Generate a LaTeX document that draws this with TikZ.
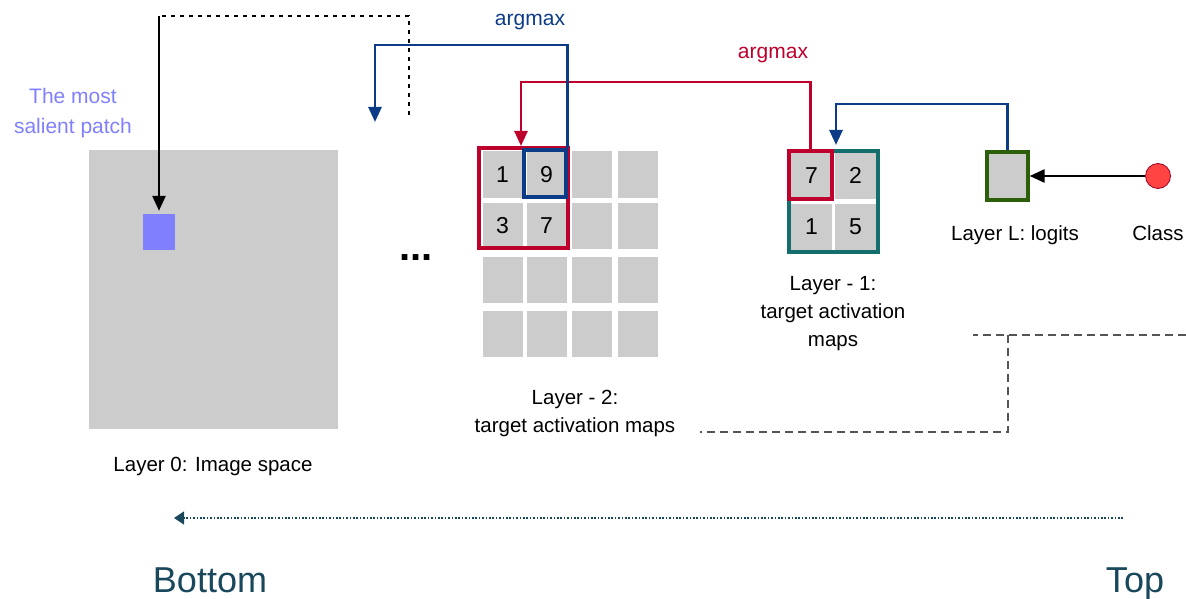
\documentclass[tikz,border=0pt]{standalone}
\usepackage{fontspec}
\setmainfont{Liberation Sans}
\usetikzlibrary{arrows.meta}

\definecolor{cellgray}{HTML}{CCCCCC}
\definecolor{patchblue}{HTML}{8080FF}
\definecolor{redc}{RGB}{190,0,45}
\definecolor{bluec}{RGB}{12,60,135}
\definecolor{tealc}{RGB}{20,110,110}
\definecolor{greenc}{RGB}{45,95,10}
\definecolor{classred}{HTML}{FF4444}
\definecolor{navyc}{RGB}{25,72,92}
\definecolor{dashgray}{HTML}{555555}

\begin{document}
\begin{tikzpicture}[x=1pt,y=-1pt,
  cell/.style={fill=cellgray, draw=none, minimum width=40pt, minimum height=46pt,
    inner sep=0pt, font=\fontsize{23}{23}\selectfont},
  cellb/.style={cell, minimum width=41pt},
  frame/.style={draw, line width=3.2pt, fill=none, inner sep=0pt},
  lbl/.style={font=\fontsize{20.5}{28}\selectfont, align=center, text=black},
  tip/.style={-{Triangle[length=15pt,width=13pt]}},
  wire/.style={line width=2.6pt},
  dotline/.style={line width=2.8pt, dash pattern=on 4pt off 5pt},
  dashline/.style={line width=2.4pt, draw=dashgray, dash pattern=on 8pt off 5pt},
]
\useasboundingbox (0,0) rectangle (1186,599);

% Layer 0: image space with the salient patch
\node[fill=cellgray, minimum width=249pt, minimum height=278pt, inner sep=0pt] (img) at (213.5,289.5) {};
\node[fill=patchblue, minimum width=32pt, minimum height=36pt, inner sep=0pt] (patch) at (159,232) {};
\node[font=\fontsize{21}{30}\selectfont, align=center, text=patchblue] (salient) at (73,113) {The most\\salient patch};
\node[lbl, anchor=base] (l0) at (213,471) {Layer 0: Image space};

% Layer -2: 4x4 activation map
\foreach \r/\yy in {1/174.5,2/226,3/279.5,4/333.5}{
  \foreach \c/\xx in {1/502.5,2/546.5,3/592,4/637.5}{
    \node[cell] (g\r\c) at (\xx,\yy) {};
  }
}
\node[cell, fill=none] (v11) at (g11) {1};
\node[cell, fill=none] (v12) at (g12) {9};
\node[cell, fill=none] (v21) at (g21) {3};
\node[cell, fill=none] (v22) at (g22) {7};
\node[frame, draw=redc, minimum width=89pt, minimum height=100pt] (r2) at (523.5,198) {};
\node[frame, draw=bluec, minimum width=42pt, minimum height=47pt] (b9) at (545,173.5) {};
% base anchor of a multi-line label sits on its last line
\node[lbl, anchor=base] (l2) at (575,432) {Layer - 2:\\target activation maps};

\node[font=\fontsize{40}{40}\selectfont\bfseries, anchor=base] (dots) at (416,260) {...};

% Layer -1: 2x2 activation map
\node[cellb] (h11) at (811.5,175.5) {7};
\node[cellb] (h12) at (855.5,175.5) {2};
\node[cellb] (h21) at (811.5,226.5) {1};
\node[cellb] (h22) at (855.5,226.5) {5};
\node[frame, draw=tealc, minimum width=89pt, minimum height=101pt] (t1) at (833.5,201.5) {};
\node[frame, draw=redc, minimum width=43pt, minimum height=48pt] (r7) at (810.5,175) {};
\node[lbl, anchor=base] (l1) at (833,346) {Layer - 1:\\target activation\\maps};

% Layer L: logits and the class
\node[fill=cellgray, draw=greenc, line width=3.2pt, minimum width=41pt, minimum height=48pt, inner sep=0pt] (logit) at (1007.5,176) {};
\node[circle, fill=classred, draw=redc!80!black, line width=0.8pt, minimum size=25pt, inner sep=0pt] (cls) at (1158,176) {};
\node[lbl, anchor=base] (lL) at (1015,240) {Layer L: logits};
\node[lbl, anchor=base] (lC) at (1158,240) {Class};

% argmax connectors
\coordinate (tipT1) at (836,145);
\coordinate (tipR2) at (521,146);
\coordinate (tipUp) at (375,122);
\draw[wire, tip] (cls.west) -- (logit.east);
\draw[wire, bluec, tip] (logit.north) -- (logit.north |- 0,104) -| (tipT1);
\draw[wire, redc, tip] (r7.north) -- (r7.north |- 0,82) -| (tipR2);
\draw[wire, bluec, tip] (b9.north east) -- (b9.north east |- 0,45) -| (tipUp);
\node[font=\fontsize{21}{21}\selectfont, text=bluec] (amB) at (530,22) {argmax};
\node[font=\fontsize{21}{21}\selectfont, text=redc] (amR) at (773,55) {argmax};

% projection back to image space
\coordinate (dotEnd) at (409,115);
\coordinate (dotCorner) at (159,16);
\draw[dotline] (dotEnd) |- (dotCorner);
\draw[wire, tip, shorten >=3pt] (dotCorner) -- (patch.north);

% layer boundary
\coordinate (dA) at (1186,335);
\coordinate (dB) at (973,335);
\coordinate (dC) at (1008,335);
\coordinate (dD) at (700,432);
\draw[dashline] (dA) -- (dB);
\draw[dashline] (dC) |- (dD);

% direction of the backward pass
\node[font=\fontsize{36}{36}\selectfont, text=navyc, anchor=base] (bot) at (210,592) {Bottom};
\node[font=\fontsize{36}{36}\selectfont, text=navyc, anchor=base] (top) at (1135,592) {Top};
\coordinate (dirStart) at (1123,518);
\coordinate (dirEnd) at (174,518);
\draw[navyc, line width=2.6pt, dash pattern=on 1.6pt off 1.8pt] (dirStart) -- ([xshift=8pt]dirEnd);
\draw[navyc, line width=1pt, -{Triangle[length=10pt,width=13pt]}] ([xshift=9pt]dirEnd) -- (dirEnd);
\end{tikzpicture}
\end{document}
